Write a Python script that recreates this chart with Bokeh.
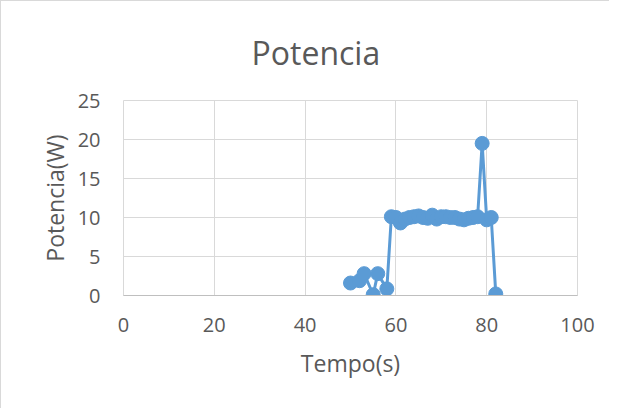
from bokeh.plotting import figure
from bokeh.models import Range1d
from bokeh.embed import file_html
from bokeh.resources import INLINE

# Data
tempo = [50, 52, 53, 55, 56, 58, 59, 60, 61, 62, 63, 64, 65, 66, 67, 68, 69, 70,
         71, 72, 73, 74, 75, 76, 77, 78, 79, 80, 81, 82]
potencia = [1.6, 1.9, 2.8, 0.1, 2.8, 0.85, 10.1, 10.0, 9.3, 9.8, 10.0, 10.1, 10.2,
            10.0, 9.9, 10.3, 9.8, 10.1, 10.1, 10.0, 10.0, 9.8, 9.7, 9.9, 10.0,
            10.1, 19.5, 9.7, 10.0, 0.2]
x_ticks = [0, 20, 40, 60, 80, 100]
y_ticks = [0, 5, 10, 15, 20, 25]
title_text = "Potencia"

TXT = "#595959"
GRID = "#d9d9d9"
BLUE = "#5b9bd5"
FONT = "Open Sans"

p = figure(width=609, height=408, output_backend="svg", toolbar_location=None,
           title=title_text,
           x_range=Range1d(0, 100), y_range=Range1d(0, 25),
           min_border_left=122, min_border_right=33,
           min_border_top=99, min_border_bottom=114)

p.title.align = "left"
p.title.vertical_align = "top"
p.title.text_font = FONT
p.title.text_font_size = "32px"
p.title.text_font_style = "normal"
p.title.text_color = TXT
p.title.standoff = 50
p.title.offset = 128

p.line(tempo, potencia, line_color=BLUE, line_width=3)
p.scatter(tempo, potencia, size=14, fill_color=BLUE, line_color=BLUE)

p.xaxis.ticker = x_ticks
p.yaxis.ticker = y_ticks
p.xgrid.ticker = x_ticks
p.ygrid.ticker = y_ticks
p.xgrid.grid_line_color = GRID
p.ygrid.grid_line_color = GRID
p.outline_line_color = GRID

for ax in (p.xaxis, p.yaxis):
    ax.major_tick_line_color = None
    ax.minor_tick_line_color = None
    ax.major_label_text_font = FONT
    ax.major_label_text_font_size = "20px"
    ax.major_label_text_color = TXT
    ax.axis_label_text_font = FONT
    ax.axis_label_text_font_size = "23px"
    ax.axis_label_text_font_style = "normal"
    ax.axis_label_text_color = TXT

p.xaxis.axis_label = "Tempo(s)"
p.yaxis.axis_label = "Potencia(W)"
p.xaxis.axis_line_color = "#bfbfbf"
p.yaxis.axis_line_color = None
p.xaxis.major_label_standoff = 16
p.yaxis.major_label_standoff = 17
p.xaxis.axis_label_standoff = 12
p.yaxis.axis_label_standoff = 4

p.styles = {"border-left": "1px solid #d9d9d9", "border-top": "1px solid #d9d9d9"}

open("out.html", "w").write(file_html(p, INLINE))
